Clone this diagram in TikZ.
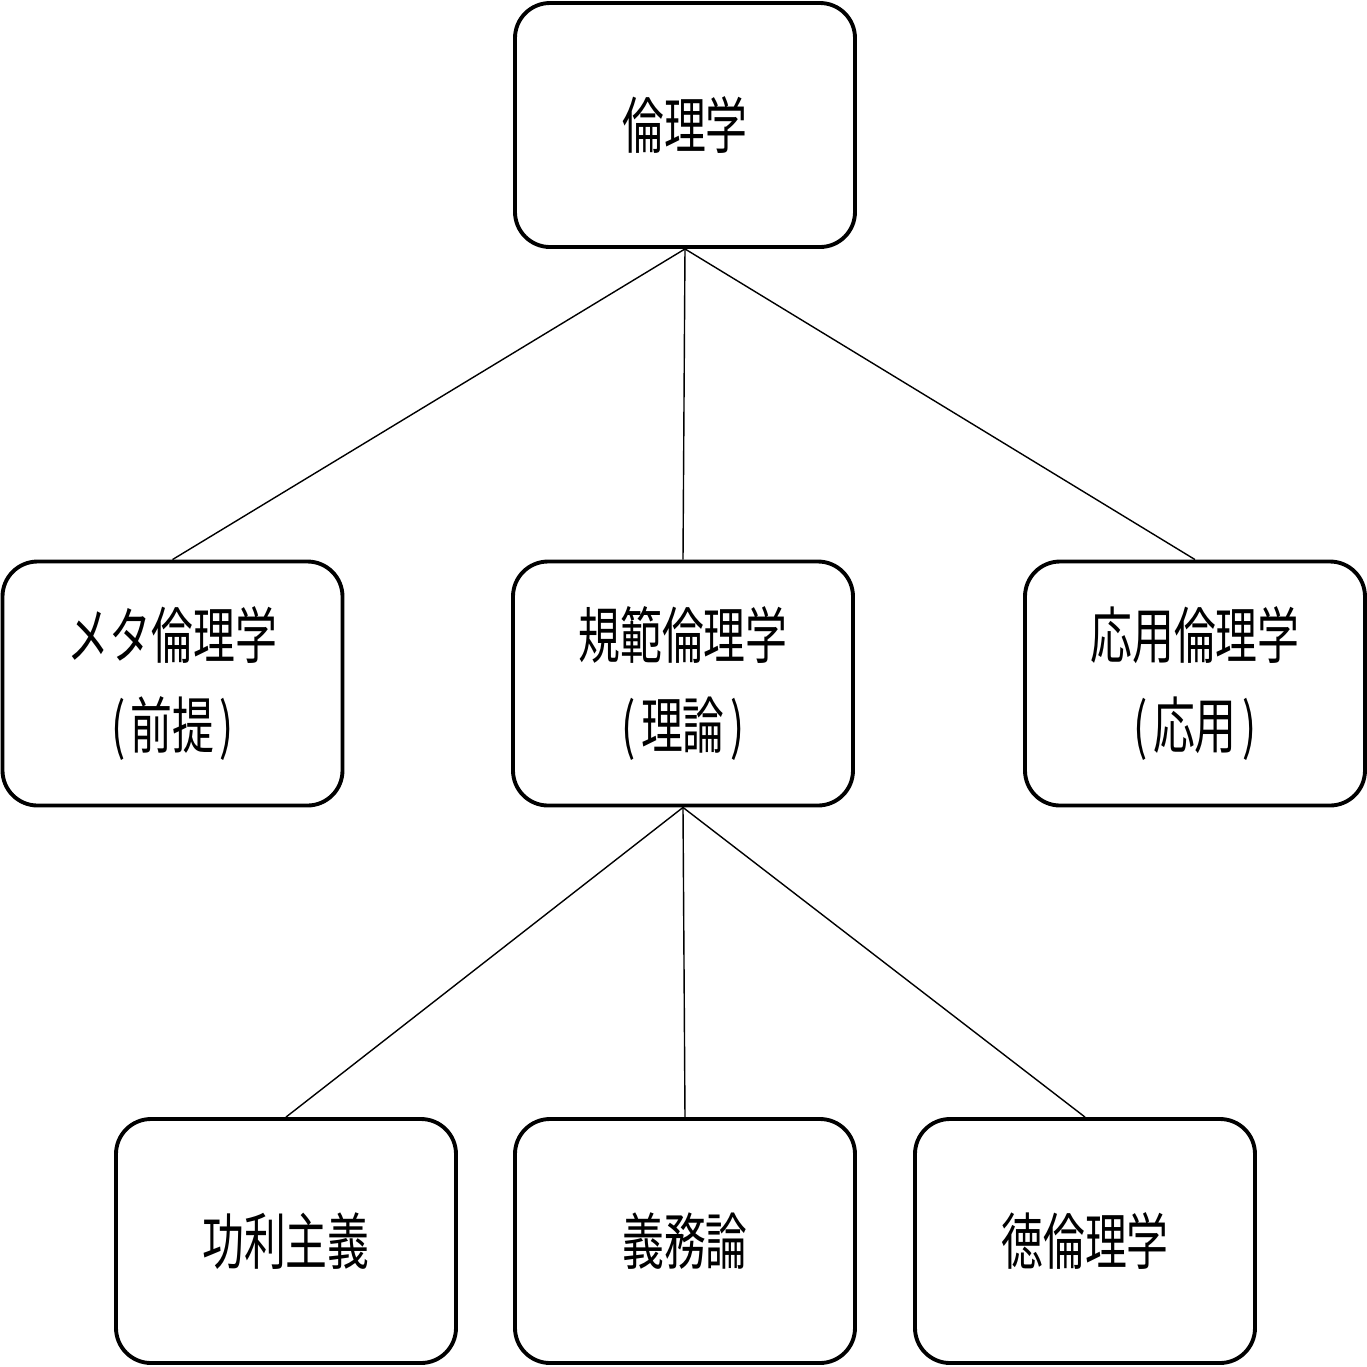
\documentclass[tikz,border=0pt]{standalone}
\usepackage{fontspec}
\setmainfont{Noto Sans CJK JP}[FakeStretch=0.68]
\usepackage{tikz}
\newcommand{\pgap}{\hspace{1.5pt}}

\begin{document}
\begin{tikzpicture}[every node/.style={font=\fontsize{17.5pt}{25.5pt}\selectfont}]
    \useasboundingbox (0,0) rectangle (13.67,-13.67);
    \tikzset{topicbox/.style={draw, line width=1.1pt, rounded corners=0.35cm, fill=white, align=center, minimum width=3.4cm, minimum height=2.44cm}}

    % Root
    \node[topicbox] (ethics) at (6.85,-1.25) {倫理学};

    % Second level
    \node[topicbox] (meta) at (1.725,-6.835) {メタ倫理学\\(\pgap 前提\pgap)};
    \node[topicbox] (normative) at (6.83,-6.835) {規範倫理学\\(\pgap 理論\pgap)};
    \node[topicbox] (applied) at (11.95,-6.835) {応用倫理学\\(\pgap 応用\pgap)};

    % Third level
    \node[topicbox] (util) at (2.86,-12.41) {功利主義};
    \node[topicbox] (deon) at (6.85,-12.41) {義務論};
    \node[topicbox] (virtue) at (10.85,-12.41) {徳倫理学};

    % Connectors
    \foreach \n in {meta,normative,applied}{
        \draw[line width=0.4pt] (ethics.south) -- (\n.north);
    }
    \foreach \n in {util,deon,virtue}{
        \draw[line width=0.4pt] (normative.south) -- (\n.north);
    }
\end{tikzpicture}
\end{document}
